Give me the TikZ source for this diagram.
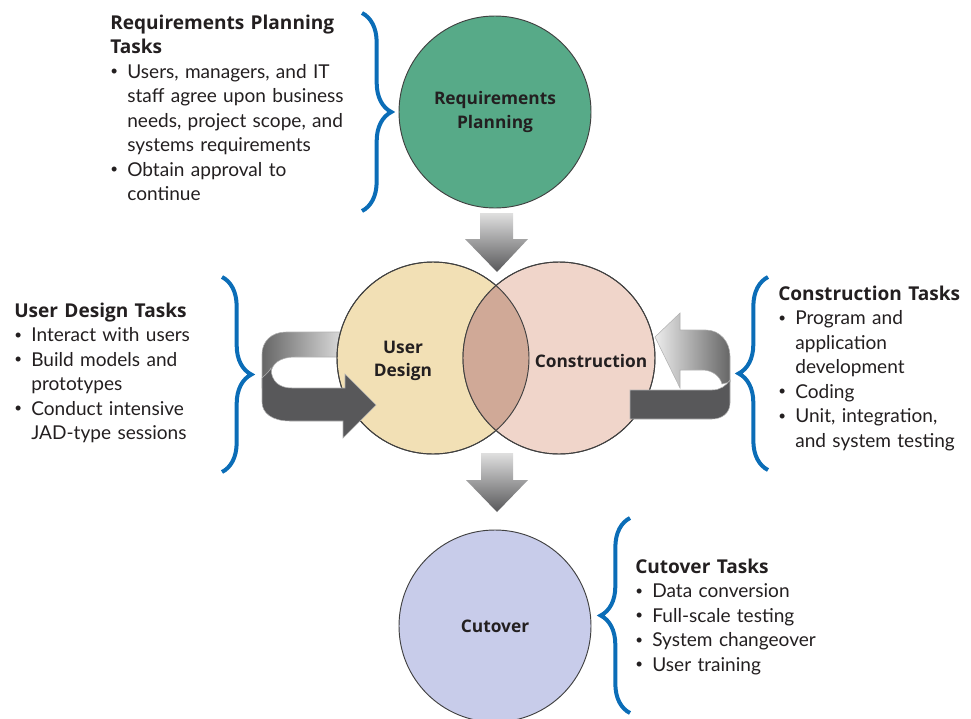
\documentclass[tikz,border=0pt]{standalone}
\usepackage{fontspec}
\setmainfont{Lato}
\newfontfamily\headfont{Open Sans}
\usetikzlibrary{decorations.pathreplacing}
\definecolor{reqgreen}{HTML}{57AA88}
\definecolor{udwheat}{HTML}{F2E0B5}
\definecolor{conpink}{HTML}{F0D5CA}
\definecolor{lensbrown}{HTML}{D0A997}
\definecolor{cutblue}{HTML}{C8CCEA}
\definecolor{arrowgray}{HTML}{58585A}
\definecolor{braceblue}{HTML}{0B6DB7}
\definecolor{inkdark}{HTML}{231F20}
\newcommand{\bul}{\makebox[12.8pt][l]{\raisebox{0.12em}{\scalebox{0.7}{\textbullet}}}}
\newcommand{\ind}{\hspace*{12.8pt}}
\newcommand{\head}[1]{{\headfont\bfseries #1}}
\begin{document}
\begin{tikzpicture}[x=0.75pt,y=-0.75pt,
	phase/.style={circle,draw=black!75,line width=0.7pt,minimum size=144pt,inner sep=0pt},
	phaselabel/.style={text=inkdark,font=\fontsize{13}{17.3}\selectfont\headfont\bfseries,align=center},
	tasks/.style={anchor=base west,inner sep=0pt,text=inkdark,text width=200pt,align=left,font=\fontsize{14.3}{18.4}\selectfont},
	curly/.style={draw=braceblue,line width=3pt,decorate,decoration={brace,amplitude=22pt}},
	downarrow/.style={top color=gray!25,middle color=arrowgray,bottom color=arrowgray},
	loopdark/.style={fill=arrowgray,draw=gray!60,line width=0.4pt}]
	\useasboundingbox (0,0) rectangle (971,718);
	\shade[left color=black!60,right color=gray!25,draw=gray!60,line width=0.4pt] (345,332)--(286,332) .. controls (271,332) and (262,342) .. (262,354)--(262,388)--(271,388)--(271,374) .. controls (271,364) and (280,357) .. (295,357)--(345,357)--cycle;
	\node[phase,fill=reqgreen] (req) at (495,112) {};
	\node[phase,fill=udwheat] (ud) at (433,358) {};
	\node[phase,fill=conpink] (con) at (559,358) {};
	\node[phase,fill=cutblue] (cut) at (495,626) {};
	\begin{scope}
		\clip (ud.center) circle (96);
		\fill[lensbrown] (con.center) circle (96);
	\end{scope}
	\draw[black!75,line width=0.7pt] (ud.center) circle (96) (con.center) circle (96);
	\draw[loopdark] (262,378) .. controls (266,374) and (269,372) .. (271,368) .. controls (271,382) and (280,388) .. (292,388)--(345,388)--(345,374)--(376,405)--(343,438)--(343,421)--(290,421) .. controls (272,421) and (262,413) .. (262,402)--cycle;
	\shade[left color=gray!15,right color=black!60,draw=gray!60,line width=0.4pt] (655,337)--(680,313)--(680,330)--(706,330) .. controls (720,330) and (730,342) .. (730,356)--(730,382)--(722,384) .. controls (720,376) and (712,370) .. (702,370)--(680,370)--(680,388)--cycle;
	\draw[loopdark] (630,390)--(712,390) .. controls (720,390) and (726,386) .. (730,380)--(730,403) .. controls (730,413) and (722,419) .. (712,419)--(630,419)--cycle;
	\shade[downarrow] (480,213)--(513,213)--(513,239)--(528,239)--(497,272)--(465,239)--(480,239)--cycle;
	\shade[downarrow] (481,453)--(513,453)--(513,480)--(528,480)--(497,512)--(466,480)--(481,480)--cycle;
	\node[phaselabel] (reqlabel) at (req.center) {Requirements\\Planning};
	\node[phaselabel] (udlabel) at (403,361) {User\\Design};
	\node[phaselabel] (conlabel) at (591,361) {Construction};
	\node[phaselabel] (cutlabel) at (cut.center) {Cutover};
	\node[tasks] (reqtasks) at (110,29) {\head{Requirements Planning}\\\head{Tasks}\\\bul Users, managers, and IT\\\ind staff agree upon business\\\ind needs, project scope, and\\\ind systems requirements\\\bul Obtain approval to\\\ind continue};
	\node[tasks] (udtasks) at (14,317) {\head{User Design Tasks}\\\bul Interact with users\\\bul Build models and\\\ind prototypes\\\bul Conduct intensive\\\ind JAD-type sessions};
	\node[tasks] (contasks) at (778,300) {\head{Construction Tasks}\\\bul Program and\\\ind application\\\ind development\\\bul Coding\\\bul Unit, integration,\\\ind and system testing};
	\node[tasks] (cuttasks) at (635,573) {\head{Cutover Tasks}\\\bul Data conversion\\\bul Full-scale testing\\\bul System changeover\\\bul User training};
	\draw[curly] (362,13)--(362,211);
	\draw[curly] (222,277)--(222,472);
	\draw[curly] (768,470)--(768,277);
	\draw[curly] (630,713)--(630,518);
\end{tikzpicture}
\end{document}
